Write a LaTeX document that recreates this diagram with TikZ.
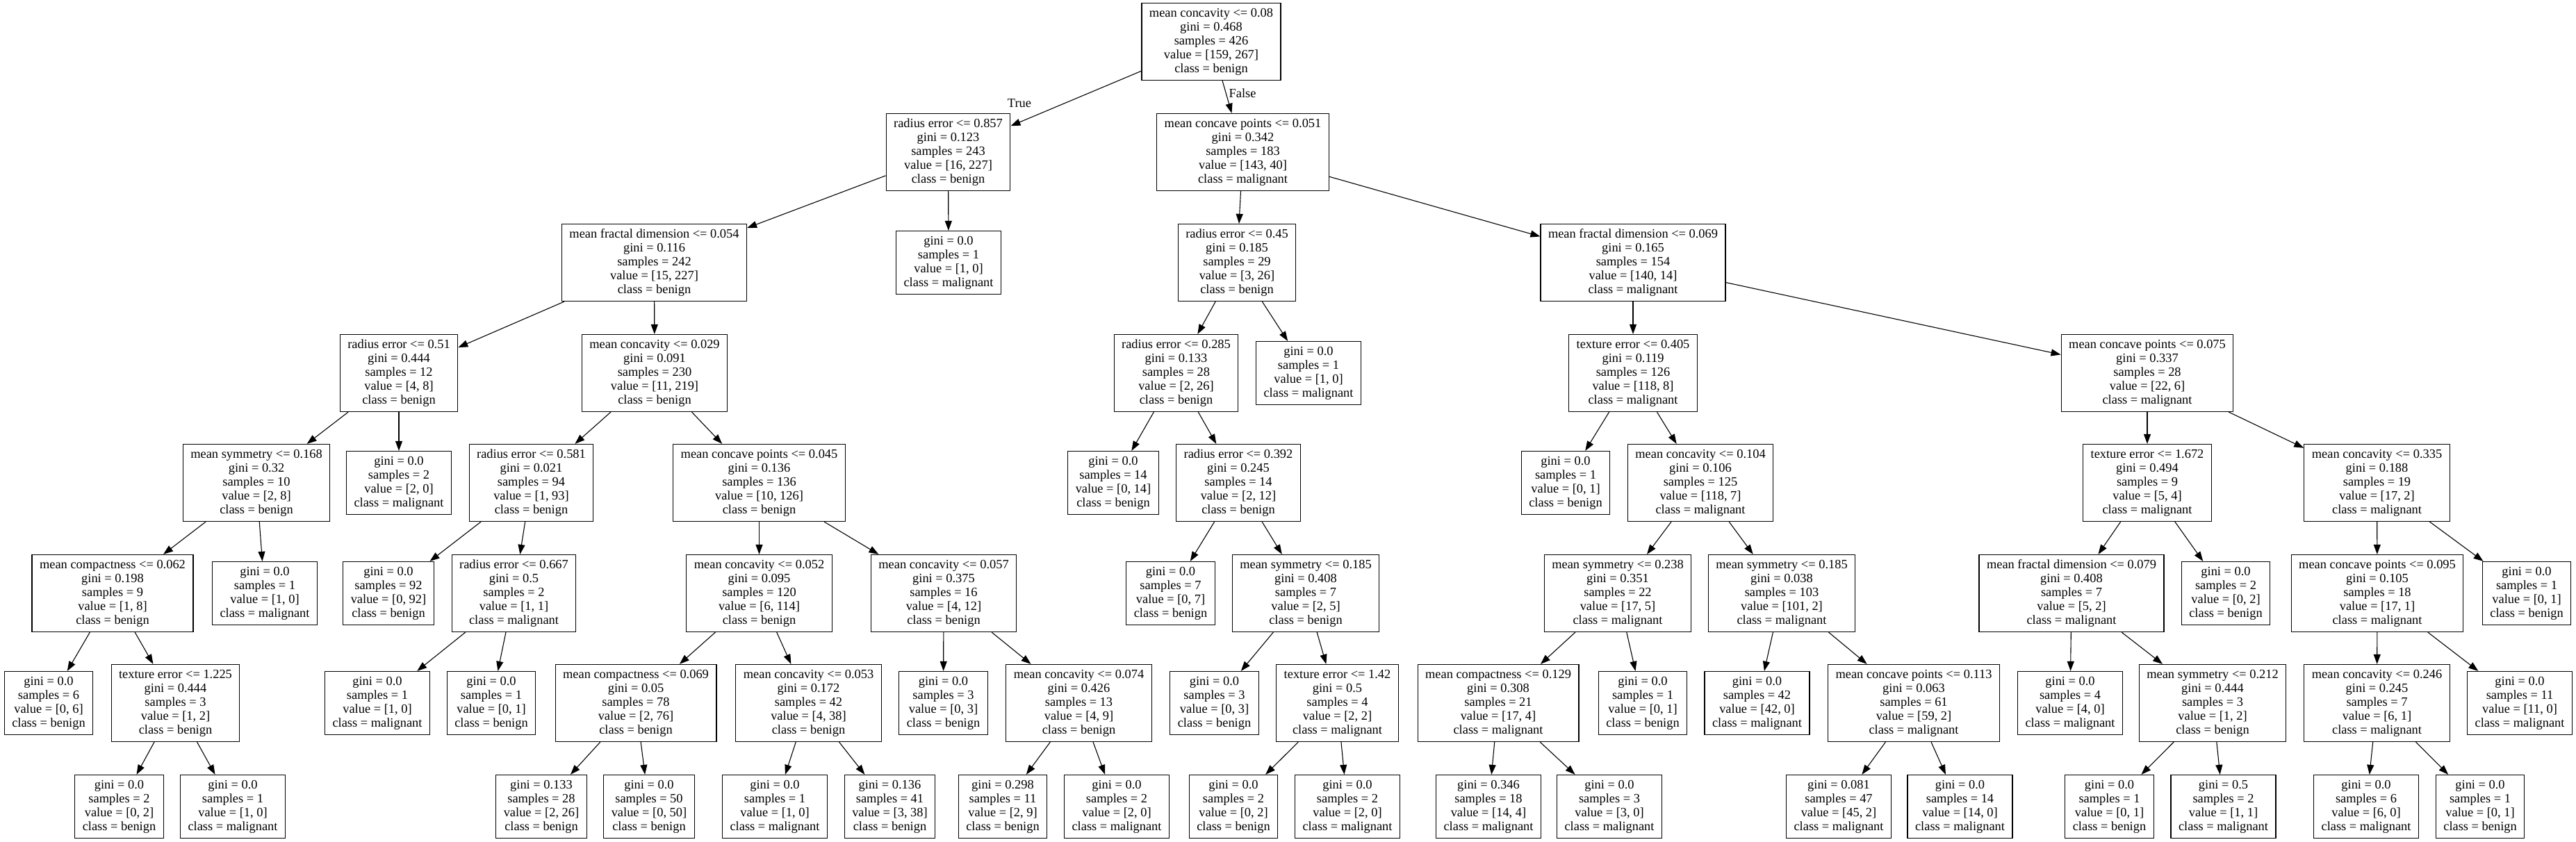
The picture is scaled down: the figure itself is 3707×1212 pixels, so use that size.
\documentclass[tikz,border=0pt]{standalone}
\usepackage{fontspec}
\setmainfont{Liberation Serif}
\usetikzlibrary{arrows.meta}
\tikzset{
  treenode/.style = {shape=rectangle, draw, align=center, line width=1.2pt,
                     inner xsep=11pt, inner ysep=0pt,
                     font=\fontsize{18.4pt}{20pt}\selectfont},
  split/.style    = {treenode, minimum height=111pt},
  leaf/.style     = {treenode, minimum height=91pt},
  branch/.style   = {inner sep=0pt, font=\fontsize{18.4pt}{20pt}\selectfont},
  link/.style     = {line width=1.1pt, -{Triangle[length=14pt,width=10pt]}}
}

\begin{document}
\begin{tikzpicture}[x=1pt, y=-1pt]
 \useasboundingbox (0,0) rectangle (3707,1212);

 \node[split] (root) at (1743,60) {mean concavity <= 0.08\\gini = 0.468\\samples = 426\\value = [159, 267]\\class = benign};

 % level 1
 \node[split] (l) at (1364.5,219) {radius error <= 0.857\\gini = 0.123\\samples = 243\\value = [16, 227]\\class = benign};
 \node[split] (r) at (1788.5,219) {mean concave points <= 0.051\\gini = 0.342\\samples = 183\\value = [143, 40]\\class = malignant};

 % level 2
 \node[split] (ll) at (941.5,378) {mean fractal dimension <= 0.054\\gini = 0.116\\samples = 242\\value = [15, 227]\\class = benign};
 \node[leaf]  (lr) at (1365,378) {gini = 0.0\\samples = 1\\value = [1, 0]\\class = malignant};
 \node[split] (rl) at (1780,378) {radius error <= 0.45\\gini = 0.185\\samples = 29\\value = [3, 26]\\class = benign};
 \node[split] (rr) at (2350,378) {mean fractal dimension <= 0.069\\gini = 0.165\\samples = 154\\value = [140, 14]\\class = malignant};

 % level 3
 \node[split] (lll) at (574,537) {radius error <= 0.51\\gini = 0.444\\samples = 12\\value = [4, 8]\\class = benign};
 \node[split] (llr) at (942,537) {mean concavity <= 0.029\\gini = 0.091\\samples = 230\\value = [11, 219]\\class = benign};
 \node[split] (rll) at (1692.5,537) {radius error <= 0.285\\gini = 0.133\\samples = 28\\value = [2, 26]\\class = benign};
 \node[leaf]  (rlr) at (1883,537) {gini = 0.0\\samples = 1\\value = [1, 0]\\class = malignant};
 \node[split] (rrl) at (2350,537) {texture error <= 0.405\\gini = 0.119\\samples = 126\\value = [118, 8]\\class = malignant};
 \node[split] (rrr) at (3090,537) {mean concave points <= 0.075\\gini = 0.337\\samples = 28\\value = [22, 6]\\class = malignant};

 % level 4
 \node[split] (llll) at (369,695) {mean symmetry <= 0.168\\gini = 0.32\\samples = 10\\value = [2, 8]\\class = benign};
 \node[leaf]  (lllr) at (574,695) {gini = 0.0\\samples = 2\\value = [2, 0]\\class = malignant};
 \node[split] (llrl) at (764.5,695) {radius error <= 0.581\\gini = 0.021\\samples = 94\\value = [1, 93]\\class = benign};
 \node[split] (llrr) at (1092.5,695) {mean concave points <= 0.045\\gini = 0.136\\samples = 136\\value = [10, 126]\\class = benign};
 \node[leaf]  (rlll) at (1602,695) {gini = 0.0\\samples = 14\\value = [0, 14]\\class = benign};
 \node[split] (rllr) at (1782,695) {radius error <= 0.392\\gini = 0.245\\samples = 14\\value = [2, 12]\\class = benign};
 \node[leaf]  (rrll) at (2253,695) {gini = 0.0\\samples = 1\\value = [0, 1]\\class = benign};
 \node[split] (rrlr) at (2447,695) {mean concavity <= 0.104\\gini = 0.106\\samples = 125\\value = [118, 7]\\class = malignant};
 \node[split] (rrrl) at (3090,695) {texture error <= 1.672\\gini = 0.494\\samples = 9\\value = [5, 4]\\class = malignant};
 \node[split] (rrrr) at (3420.5,695) {mean concavity <= 0.335\\gini = 0.188\\samples = 19\\value = [17, 2]\\class = malignant};

 % level 5
 \node[split] (lllll) at (162,854) {mean compactness <= 0.062\\gini = 0.198\\samples = 9\\value = [1, 8]\\class = benign};
 \node[leaf]  (llllr) at (381,854) {gini = 0.0\\samples = 1\\value = [1, 0]\\class = malignant};
 \node[leaf]  (llrll) at (559,854) {gini = 0.0\\samples = 92\\value = [0, 92]\\class = benign};
 \node[split] (llrlr) at (739.5,854) {radius error <= 0.667\\gini = 0.5\\samples = 2\\value = [1, 1]\\class = malignant};
 \node[split] (llrrl) at (1092.5,854) {mean concavity <= 0.052\\gini = 0.095\\samples = 120\\value = [6, 114]\\class = benign};
 \node[split] (llrrr) at (1358,854) {mean concavity <= 0.057\\gini = 0.375\\samples = 16\\value = [4, 12]\\class = benign};
 \node[leaf]  (rllrl) at (1684.5,854) {gini = 0.0\\samples = 7\\value = [0, 7]\\class = benign};
 \node[split] (rllrr) at (1879,854) {mean symmetry <= 0.185\\gini = 0.408\\samples = 7\\value = [2, 5]\\class = benign};
 \node[split] (rrlrl) at (2328,854) {mean symmetry <= 0.238\\gini = 0.351\\samples = 22\\value = [17, 5]\\class = malignant};
 \node[split] (rrlrr) at (2564,854) {mean symmetry <= 0.185\\gini = 0.038\\samples = 103\\value = [101, 2]\\class = malignant};
 \node[split] (rrrll) at (2981,854) {mean fractal dimension <= 0.079\\gini = 0.408\\samples = 7\\value = [5, 2]\\class = malignant};
 \node[leaf]  (rrrlr) at (3203,854) {gini = 0.0\\samples = 2\\value = [0, 2]\\class = benign};
 \node[split] (rrrrl) at (3421,854) {mean concave points <= 0.095\\gini = 0.105\\samples = 18\\value = [17, 1]\\class = malignant};
 \node[leaf]  (rrrrr) at (3636,854) {gini = 0.0\\samples = 1\\value = [0, 1]\\class = benign};

 % level 6
 \node[leaf]  (llllll) at (70,1012) {gini = 0.0\\samples = 6\\value = [0, 6]\\class = benign};
 \node[split] (lllllr) at (252.5,1012) {texture error <= 1.225\\gini = 0.444\\samples = 3\\value = [1, 2]\\class = benign};
 \node[leaf]  (llrlrl) at (543,1012) {gini = 0.0\\samples = 1\\value = [1, 0]\\class = malignant};
 \node[leaf]  (llrlrr) at (707,1012) {gini = 0.0\\samples = 1\\value = [0, 1]\\class = benign};
 \node[split] (llrrll) at (915,1012) {mean compactness <= 0.069\\gini = 0.05\\samples = 78\\value = [2, 76]\\class = benign};
 \node[split] (llrrlr) at (1163.5,1012) {mean concavity <= 0.053\\gini = 0.172\\samples = 42\\value = [4, 38]\\class = benign};
 \node[leaf]  (llrrrl) at (1357.5,1012) {gini = 0.0\\samples = 3\\value = [0, 3]\\class = benign};
 \node[split] (llrrrr) at (1552.5,1012) {mean concavity <= 0.074\\gini = 0.426\\samples = 13\\value = [4, 9]\\class = benign};
 \node[leaf]  (rllrrl) at (1747.5,1012) {gini = 0.0\\samples = 3\\value = [0, 3]\\class = benign};
 \node[split] (rllrrr) at (1924.5,1012) {texture error <= 1.42\\gini = 0.5\\samples = 4\\value = [2, 2]\\class = malignant};
 \node[split] (rrlrll) at (2156,1012) {mean compactness <= 0.129\\gini = 0.308\\samples = 21\\value = [17, 4]\\class = malignant};
 \node[leaf]  (rrlrlr) at (2364,1012) {gini = 0.0\\samples = 1\\value = [0, 1]\\class = benign};
 \node[leaf]  (rrlrrl) at (2528.5,1012) {gini = 0.0\\samples = 42\\value = [42, 0]\\class = malignant};
 \node[split] (rrlrrr) at (2754,1012) {mean concave points <= 0.113\\gini = 0.063\\samples = 61\\value = [59, 2]\\class = malignant};
 \node[leaf]  (rrrlll) at (2979,1012) {gini = 0.0\\samples = 4\\value = [4, 0]\\class = malignant};
 \node[split] (rrrllr) at (3184,1012) {mean symmetry <= 0.212\\gini = 0.444\\samples = 3\\value = [1, 2]\\class = benign};
 \node[split] (rrrrll) at (3420.5,1012) {mean concavity <= 0.246\\gini = 0.245\\samples = 7\\value = [6, 1]\\class = malignant};
 \node[leaf]  (rrrrlr) at (3626,1012) {gini = 0.0\\samples = 11\\value = [11, 0]\\class = malignant};

 % level 7
 \node[leaf] (lllllrl) at (171.5,1161) {gini = 0.0\\samples = 2\\value = [0, 2]\\class = benign};
 \node[leaf] (lllllrr) at (335,1161) {gini = 0.0\\samples = 1\\value = [1, 0]\\class = malignant};
 \node[leaf] (llrrlll) at (779,1161) {gini = 0.133\\samples = 28\\value = [2, 26]\\class = benign};
 \node[leaf] (llrrllr) at (934,1161) {gini = 0.0\\samples = 50\\value = [0, 50]\\class = benign};
 \node[leaf] (llrrlrl) at (1115,1161) {gini = 0.0\\samples = 1\\value = [1, 0]\\class = malignant};
 \node[leaf] (llrrlrr) at (1280.5,1161) {gini = 0.136\\samples = 41\\value = [3, 38]\\class = benign};
 \node[leaf] (llrrrrl) at (1443,1161) {gini = 0.298\\samples = 11\\value = [2, 9]\\class = benign};
 \node[leaf] (llrrrrr) at (1607,1161) {gini = 0.0\\samples = 2\\value = [2, 0]\\class = malignant};
 \node[leaf] (rllrrrl) at (1775,1161) {gini = 0.0\\samples = 2\\value = [0, 2]\\class = benign};
 \node[leaf] (rllrrrr) at (1939,1161) {gini = 0.0\\samples = 2\\value = [2, 0]\\class = malignant};
 \node[leaf] (rrlrlll) at (2142,1161) {gini = 0.346\\samples = 18\\value = [14, 4]\\class = malignant};
 \node[leaf] (rrlrllr) at (2316,1161) {gini = 0.0\\samples = 3\\value = [3, 0]\\class = malignant};
 \node[leaf] (rrlrrrl) at (2646,1161) {gini = 0.081\\samples = 47\\value = [45, 2]\\class = malignant};
 \node[leaf] (rrlrrrr) at (2820.5,1161) {gini = 0.0\\samples = 14\\value = [14, 0]\\class = malignant};
 \node[leaf] (rrrllrl) at (3035.5,1161) {gini = 0.0\\samples = 1\\value = [0, 1]\\class = benign};
 \node[leaf] (rrrllrr) at (3199.5,1161) {gini = 0.5\\samples = 2\\value = [1, 1]\\class = malignant};
 \node[leaf] (rrrrlll) at (3405,1161) {gini = 0.0\\samples = 6\\value = [6, 0]\\class = malignant};
 \node[leaf] (rrrrllr) at (3569,1161) {gini = 0.0\\samples = 1\\value = [0, 1]\\class = benign};

 \node[branch] (yes) at (1467,149) {True};
 \node[branch] (no)  at (1788,134) {False};

 \path[link] (root) edge (l) edge (r);
 \path[link] (l) edge (ll) edge (lr);
 \path[link] (r) edge (rl) edge (rr);
 \path[link] (ll) edge (lll) edge (llr);
 \path[link] (rl) edge (rll) edge (rlr);
 \path[link] (rr) edge (rrl) edge (rrr);
 \path[link] (lll) edge (llll) edge (lllr);
 \path[link] (llr) edge (llrl) edge (llrr);
 \path[link] (rll) edge (rlll) edge (rllr);
 \path[link] (rrl) edge (rrll) edge (rrlr);
 \path[link] (rrr) edge (rrrl) edge (rrrr);
 \path[link] (llll) edge (lllll) edge (llllr);
 \path[link] (llrl) edge (llrll) edge (llrlr);
 \path[link] (llrr) edge (llrrl) edge (llrrr);
 \path[link] (rllr) edge (rllrl) edge (rllrr);
 \path[link] (rrlr) edge (rrlrl) edge (rrlrr);
 \path[link] (rrrl) edge (rrrll) edge (rrrlr);
 \path[link] (rrrr) edge (rrrrl) edge (rrrrr);
 \path[link] (lllll) edge (llllll) edge (lllllr);
 \path[link] (llrlr) edge (llrlrl) edge (llrlrr);
 \path[link] (llrrl) edge (llrrll) edge (llrrlr);
 \path[link] (llrrr) edge (llrrrl) edge (llrrrr);
 \path[link] (rllrr) edge (rllrrl) edge (rllrrr);
 \path[link] (rrlrl) edge (rrlrll) edge (rrlrlr);
 \path[link] (rrlrr) edge (rrlrrl) edge (rrlrrr);
 \path[link] (rrrll) edge (rrrlll) edge (rrrllr);
 \path[link] (rrrrl) edge (rrrrll) edge (rrrrlr);
 \path[link] (lllllr) edge (lllllrl) edge (lllllrr);
 \path[link] (llrrll) edge (llrrlll) edge (llrrllr);
 \path[link] (llrrlr) edge (llrrlrl) edge (llrrlrr);
 \path[link] (llrrrr) edge (llrrrrl) edge (llrrrrr);
 \path[link] (rllrrr) edge (rllrrrl) edge (rllrrrr);
 \path[link] (rrlrll) edge (rrlrlll) edge (rrlrllr);
 \path[link] (rrlrrr) edge (rrlrrrl) edge (rrlrrrr);
 \path[link] (rrrllr) edge (rrrllrl) edge (rrrllrr);
 \path[link] (rrrrll) edge (rrrrlll) edge (rrrrllr);
\end{tikzpicture}
\end{document}
